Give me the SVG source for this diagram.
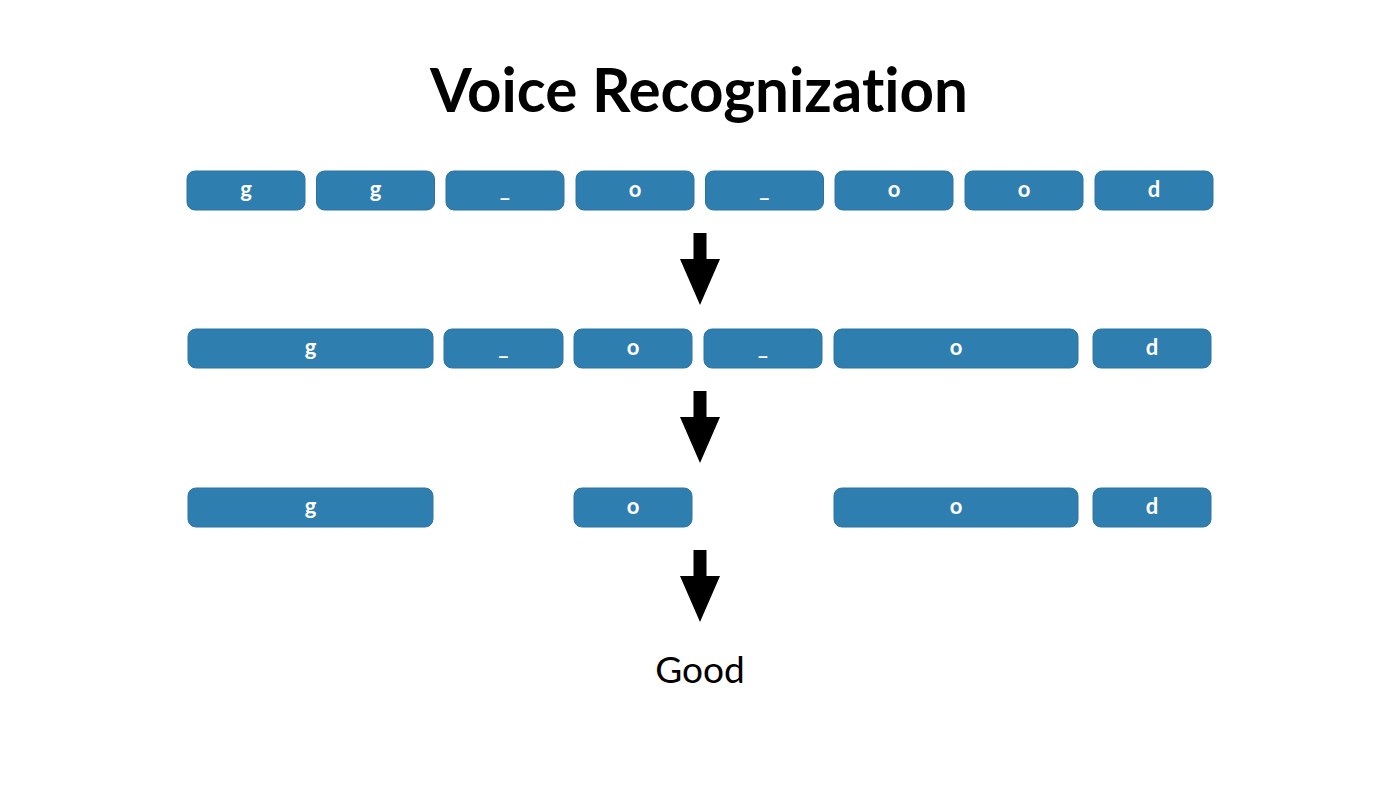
<svg xmlns="http://www.w3.org/2000/svg" width="1400" height="788" viewBox="0 0 1400 788">
<style>
text{font-variant-ligatures:none;font-feature-settings:"liga" 0,"dlig" 0}
.box{fill:#2f7eb0;stroke:#2a74a4;stroke-width:1}
.lbl{fill:#ffffff;font-family:Lato,"Open Sans",sans-serif;font-weight:700;font-size:22px;text-anchor:middle}
.title{fill:#000;font-family:Lato,"Noto Sans",sans-serif;font-weight:700;font-size:62px;text-anchor:middle}
.out{fill:#000;font-family:Lato,"Noto Sans",sans-serif;font-size:37px;text-anchor:middle}
.arrow{fill:#000}
</style>
<rect width="1400" height="788" fill="#ffffff"/>
<text class="title" x="699" y="112" textLength="538" lengthAdjust="spacingAndGlyphs">Voice Recognization</text>
<g id="row1">
<g id="r1n1"><rect class="box" x="187" y="171" width="118" height="39" rx="8"/><text class="lbl" x="246" y="197">g</text></g>
<g id="r1n2"><rect class="box" x="316.5" y="171" width="118" height="39" rx="8"/><text class="lbl" x="375.5" y="197">g</text></g>
<g id="r1n3"><rect class="box" x="446" y="171" width="118" height="39" rx="8"/><text class="lbl" x="505" y="197">_</text></g>
<g id="r1n4"><rect class="box" x="576" y="171" width="118" height="39" rx="8"/><text class="lbl" x="635" y="197">o</text></g>
<g id="r1n5"><rect class="box" x="705.5" y="171" width="118" height="39" rx="8"/><text class="lbl" x="764.5" y="197">_</text></g>
<g id="r1n6"><rect class="box" x="835" y="171" width="118" height="39" rx="8"/><text class="lbl" x="894" y="197">o</text></g>
<g id="r1n7"><rect class="box" x="965" y="171" width="118" height="39" rx="8"/><text class="lbl" x="1024" y="197">o</text></g>
<g id="r1n8"><rect class="box" x="1095" y="171" width="118" height="39" rx="8"/><text class="lbl" x="1154" y="197">d</text></g>
</g>
<g id="row2">
<g id="r2n1"><rect class="box" x="188" y="329" width="245" height="39" rx="8"/><text class="lbl" x="310.5" y="355">g</text></g>
<g id="r2n2"><rect class="box" x="444" y="329" width="119" height="39" rx="8"/><text class="lbl" x="503.5" y="355">_</text></g>
<g id="r2n3"><rect class="box" x="574" y="329" width="118" height="39" rx="8"/><text class="lbl" x="633" y="355">o</text></g>
<g id="r2n4"><rect class="box" x="704" y="329" width="118" height="39" rx="8"/><text class="lbl" x="763" y="355">_</text></g>
<g id="r2n5"><rect class="box" x="834" y="329" width="244" height="39" rx="8"/><text class="lbl" x="956" y="355">o</text></g>
<g id="r2n6"><rect class="box" x="1093" y="329" width="118" height="39" rx="8"/><text class="lbl" x="1152" y="355">d</text></g>
</g>
<g id="row3">
<g id="r3n1"><rect class="box" x="188" y="488" width="245" height="39" rx="8"/><text class="lbl" x="310.5" y="514">g</text></g>
<g id="r3n2"><rect class="box" x="574" y="488" width="118" height="39" rx="8"/><text class="lbl" x="633" y="514">o</text></g>
<g id="r3n3"><rect class="box" x="834" y="488" width="244" height="39" rx="8"/><text class="lbl" x="956" y="514">o</text></g>
<g id="r3n4"><rect class="box" x="1093" y="488" width="118" height="39" rx="8"/><text class="lbl" x="1152" y="514">d</text></g>
</g>
<g id="connectors">
<path class="arrow" d="M693.5 233 H706.5 V259 H720 L700 305 L680 259 H693.5 Z"/>
<path class="arrow" d="M693.5 391 H706.5 V417 H720 L700 463 L680 417 H693.5 Z"/>
<path class="arrow" d="M693.5 550 H706.5 V576 H720 L700 622 L680 576 H693.5 Z"/>
</g>
<g id="result"><text class="out" x="700" y="683">Good</text></g>
</svg>
